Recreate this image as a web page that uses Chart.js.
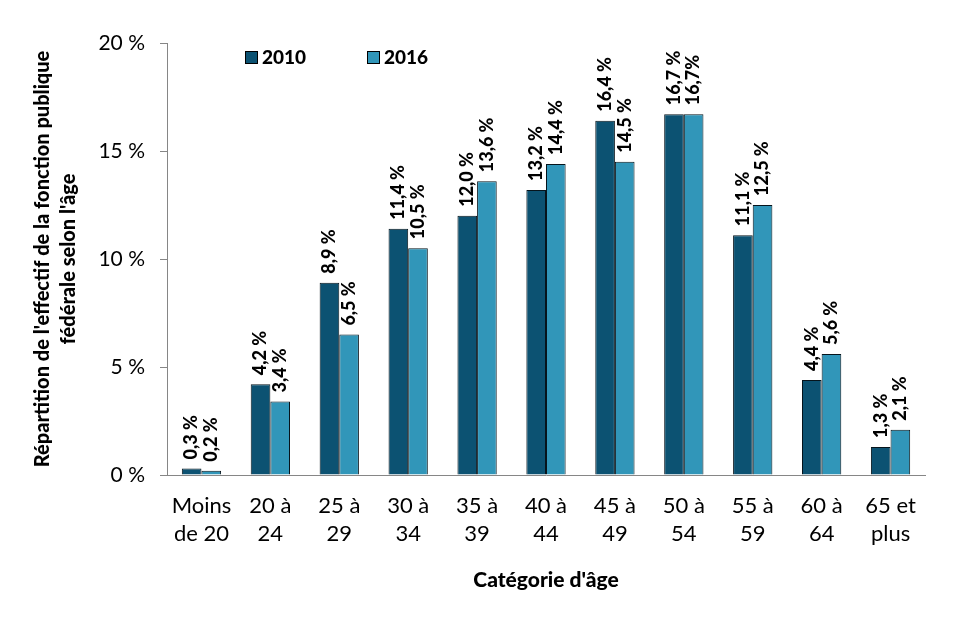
<!DOCTYPE html>
<html>
<head>
<meta charset="utf-8">
<script src="https://cdn.jsdelivr.net/npm/chart.js@4"></script>
<style>
  body { margin: 0; background: #fff; }
  #wrap { width: 962px; height: 621px; }
</style>
</head>
<body>
<div id="wrap"><canvas id="myChart" width="962" height="621"></canvas></div>
<script>
// Catégories d'âge (deux lignes par étiquette)
const categories = [
  ["Moins", "de 20"], ["20 à", "24"], ["25 à", "29"], ["30 à", "34"],
  ["35 à", "39"], ["40 à", "44"], ["45 à", "49"], ["50 à", "54"],
  ["55 à", "59"], ["60 à", "64"], ["65 et", "plus"]
];
const seriesNames = ["2010", "2016"];
const values2010 = [0.3, 4.2, 8.9, 11.4, 12.0, 13.2, 16.4, 16.7, 11.1, 4.4, 1.3];
const values2016 = [0.2, 3.4, 6.5, 10.5, 13.6, 14.4, 14.5, 16.7, 12.5, 5.6, 2.1];
const labels2010 = ["0,3 %", "4,2 %", "8,9 %", "11,4 %", "12,0 %", "13,2 %", "16,4 %", "16,7 %", "11,1 %", "4,4 %", "1,3 %"];
const labels2016 = ["0,2 %", "3,4 %", "6,5 %", "10,5 %", "13,6 %", "14,4 %", "14,5 %", "16,7%", "12,5 %", "5,6 %", "2,1 %"];
const yTicks = [0, 5, 10, 15, 20];

const police = "Lato, 'Open Sans', sans-serif";

// Étiquettes de valeurs tournées au-dessus des barres
const etiquettes = {
  id: 'etiquettes',
  afterDatasetsDraw(chart) {
    const ctx = chart.ctx;
    const textes = [labels2010, labels2016];
    chart.data.datasets.forEach((ds, i) => {
      const meta = chart.getDatasetMeta(i);
      meta.data.forEach((bar, j) => {
        ctx.save();
        ctx.translate(bar.x, bar.y - 9);
        ctx.rotate(-Math.PI / 2);
        ctx.font = "900 18px " + police;
        ctx.fillStyle = "#000";
        ctx.textAlign = "left";
        ctx.textBaseline = "middle";
        ctx.fillText(textes[i][j], 0, 0);
        ctx.restore();
      });
    });
  }
};

// Légende dessinée dans la zone du graphique
const legende = {
  id: 'legende',
  afterDraw(chart) {
    const ctx = chart.ctx;
    const area = chart.chartArea;
    let x = area.left + 78;
    const y = area.top + 8;
    chart.data.datasets.forEach(ds => {
      ctx.save();
      ctx.fillStyle = ds.backgroundColor;
      ctx.fillRect(x, y, 12, 12);
      ctx.strokeStyle = "#000";
      ctx.lineWidth = 1;
      ctx.strokeRect(x + 0.5, y + 0.5, 12, 12);
      ctx.font = "900 19px " + police;
      ctx.fillStyle = "#000";
      ctx.textBaseline = "middle";
      ctx.fillText(ds.label, x + 17, y + 7);
      ctx.restore();
      x += 122;
    });
  }
};

new Chart(document.getElementById('myChart'), {
  type: 'bar',
  data: {
    labels: categories,
    datasets: [{
      label: seriesNames[0],
      data: values2010,
      backgroundColor: '#0c5272',
      borderColor: '#06141c',
      borderWidth: 1,
      borderSkipped: 'bottom'
    }, {
      label: seriesNames[1],
      data: values2016,
      backgroundColor: '#3196b9',
      borderColor: '#06141c',
      borderWidth: 1,
      borderSkipped: 'bottom'
    }]
  },
  options: {
    responsive: false,
    animation: false,
    devicePixelRatio: 1,
    layout: { padding: { left: 0, top: 43, right: 37, bottom: 0 } },
    datasets: { bar: { categoryPercentage: 0.57, barPercentage: 1.0 } },
    plugins: {
      legend: { display: false },
      tooltip: { enabled: false }
    },
    scales: {
      x: {
        grid: { display: false, drawTicks: false },
        border: { color: '#868686', width: 1 },
        ticks: {
          color: '#000',
          font: { family: police, size: 22, lineHeight: 1.27 },
          padding: 17,
          maxRotation: 0,
          autoSkip: false
        },
        title: {
          display: true,
          text: "Catégorie d'âge",
          color: '#000',
          font: { family: police, size: 21, weight: '900', lineHeight: 1.3 },
          padding: { bottom: 27 }
        },
        afterFit(scale) { scale.height = 146; }
      },
      y: {
        min: 0,
        max: 20,
        afterBuildTicks(scale) { scale.ticks = yTicks.map(v => ({ value: v })); },
        grid: { drawOnChartArea: false, color: '#868686', tickLength: 7 },
        border: { color: '#868686', width: 1 },
        ticks: {
          color: '#000',
          font: { family: police, size: 21 },
          padding: 15,
          callback: v => v + ' %'
        },
        title: {
          display: true,
          text: ["Répartition de l'effectif de la fonction publique", "fédérale selon l'âge"],
          color: '#000',
          font: { family: police, size: 20, weight: '900', lineHeight: 1.3 },
          padding: { top: 30 }
        },
        afterFit(scale) { scale.width = 167; }
      }
    }
  },
  plugins: [etiquettes, legende]
});
</script>
</body>
</html>
